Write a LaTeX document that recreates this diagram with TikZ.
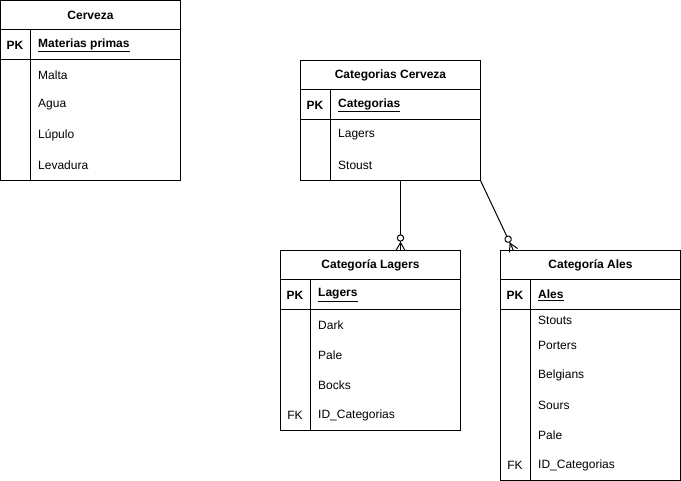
\documentclass[tikz,border=0pt]{standalone}
\usepackage{fontspec}
\setmainfont{Liberation Sans}
\usetikzlibrary{decorations.markings,calc}
\begin{document}
\begin{tikzpicture}[x=1pt,y=-1pt,
  tbl/.style={draw, line width=1pt, minimum width=180pt, anchor=north west, inner sep=0pt, outer sep=0pt},
  ttl/.style={font=\fontsize{12}{14}\selectfont\bfseries, anchor=center, inner sep=0pt},
  pk/.style={font=\fontsize{12}{14}\selectfont\bfseries, anchor=center, inner sep=0pt},
  fk/.style={font=\fontsize{12}{14}\selectfont, anchor=center, inner sep=0pt},
  fld/.style={font=\fontsize{12}{14}\selectfont, anchor=west, inner sep=0pt},
  key/.style={font=\fontsize{12}{14}\selectfont\bfseries, anchor=west, inner sep=0pt},
  rule/.style={line width=1pt},
  zeromany/.style={line width=1pt, postaction={decorate}, decoration={markings, mark=at position 1 with {
      \draw[line width=1pt, fill=white] (-12.5,0) circle (3.2);
      \draw[line width=1pt] (-8,0) -- (0,4.5) (-8,0) -- (0,-4.5);
  }}}
]
\useasboundingbox (0,0) rectangle (681,481);

% ---------- Cerveza ----------
\node[tbl, minimum height=180pt] (cer) at (0.5,0.5) {};
\draw[rule] (0.5,30) -- (180.5,30) (0.5,60) -- (180.5,60) (30,30) -- (30,180.5);
\node[ttl] (cerT) at (90.5,15) {Cerveza};
\node[pk] (cerPK) at (15,45) {PK};
\node[key] (cerK) at (38,45) {\underline{Materias primas}};
\node[fld] (cer1) at (38,75) {Malta};
\node[fld] (cer2) at (38,105) {Agua};
\node[fld] (cer3) at (38,135) {Lúpulo};
\node[fld] (cer4) at (38,165) {Levadura};

% ---------- Categorias Cerveza ----------
\node[tbl, minimum height=120pt] (cat) at (300.5,60.5) {};
\draw[rule] (300.5,90) -- (480.5,90) (300.5,120) -- (480.5,120) (330,90) -- (330,180.5);
\node[ttl] (catT) at (390.5,75) {Categorias Cerveza};
\node[pk] (catPK) at (315,105) {PK};
\node[key] (catK) at (338,105) {\underline{Categorias}};
\node[fld] (cat1) at (338,135) {Lagers};
\node[fld] (cat2) at (338,165) {Stoust};

% ---------- Categoria Lagers ----------
\node[tbl, minimum height=180pt] (lag) at (280.5,250.5) {};
\draw[rule] (280.5,280) -- (460.5,280) (280.5,310) -- (460.5,310) (310,280) -- (310,430.5);
\node[ttl] (lagT) at (370.5,265) {Categoría Lagers};
\node[pk] (lagPK) at (295,295) {PK};
\node[key] (lagK) at (318,295) {\underline{Lagers}};
\node[fld] (lag1) at (318,325) {Dark};
\node[fld] (lag2) at (318,355) {Pale};
\node[fld] (lag3) at (318,385) {Bocks};
\node[fk] (lagFK) at (295,415) {FK};
\node[fld] (lag4) at (318,415) {ID\_Categorias};

% ---------- Categoria Ales ----------
\node[tbl, minimum height=230pt] (ale) at (500.5,250.5) {};
\draw[rule] (500.5,280) -- (680.5,280) (500.5,310) -- (680.5,310) (530,280) -- (530,480.5);
\node[ttl] (aleT) at (590.5,265) {Categoría Ales};
\node[pk] (alePK) at (515,295) {PK};
\node[key] (aleK) at (538,295) {\underline{Ales}};
\node[fld] (ale1) at (538,320) {Stouts};
\node[fld] (ale2) at (538,345) {Porters};
\node[fld] (ale3) at (538,375) {Belgians};
\node[fld] (ale4) at (538,405) {Sours};
\node[fld] (ale5) at (538,435) {Pale};
\node[fk] (aleFK) at (515,465) {FK};
\node[fld] (ale6) at (538,465) {ID\_Categorias};

% ---------- connectors ----------
\coordinate (lagIn) at ($(lag.north west)+(120,0)$);
\coordinate (catOut) at ($(cat.south west)+(100,0)$);
\coordinate (aleIn) at ($(ale.north west)+(13,0)$);
\draw[zeromany] (catOut) -- (lagIn);
\draw[zeromany] (cat.south east) -- (aleIn);
\end{tikzpicture}
\end{document}
